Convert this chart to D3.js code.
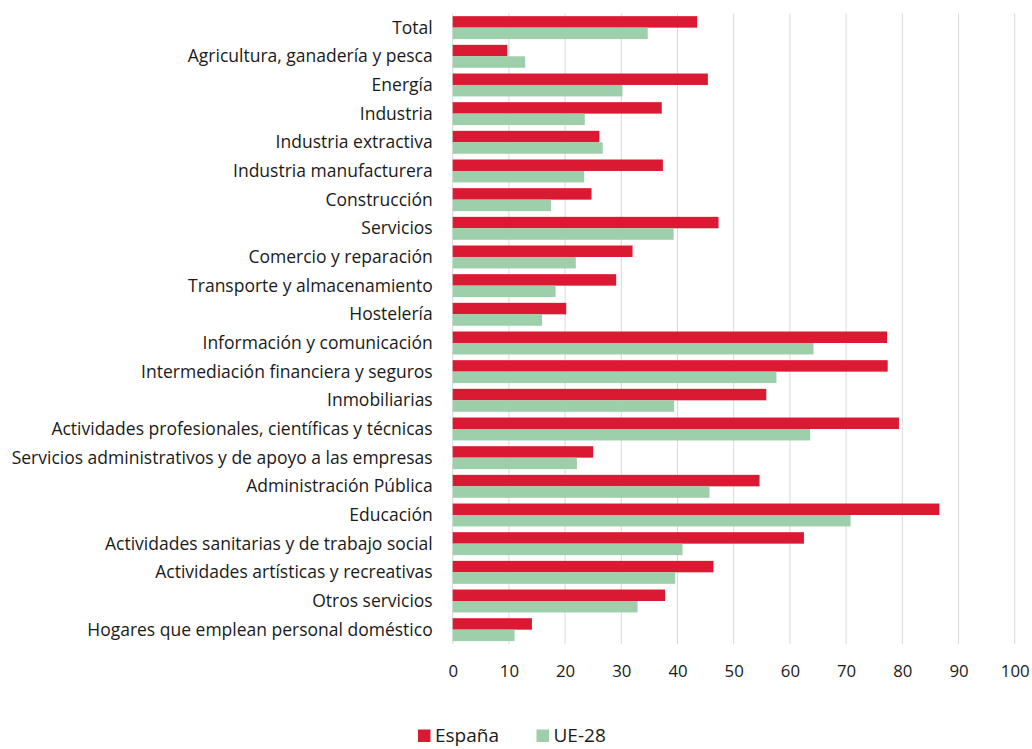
<!DOCTYPE html>
<html>
<head>
<meta charset="utf-8">
<script src="https://cdn.jsdelivr.net/npm/d3@7"></script>
<style>
  body { margin: 0; background: #fff; }
  text { font-family: "Open Sans", "Noto Sans", sans-serif; fill: #1a1a1a; }
</style>
</head>
<body>
<div id="chart"></div>
<script>
// sectores (de arriba a abajo)
var categories = [
    "Total",
    "Agricultura, ganadería y pesca",
    "Energía",
    "Industria",
    "Industria extractiva",
    "Industria manufacturera",
    "Construcción",
    "Servicios",
    "Comercio y reparación",
    "Transporte y almacenamiento",
    "Hostelería",
    "Información y comunicación",
    "Intermediación financiera y seguros",
    "Inmobiliarias",
    "Actividades profesionales, científicas y técnicas",
    "Servicios administrativos y de apoyo a las empresas",
    "Administración Pública",
    "Educación",
    "Actividades sanitarias y de trabajo social",
    "Actividades artísticas y recreativas",
    "Otros servicios",
    "Hogares que emplean personal doméstico"
]
var espana = [43.5, 9.7, 45.4, 37.2, 26.1, 37.4, 24.7, 47.3, 32.0, 29.1, 20.2,
              77.3, 77.4, 55.8, 79.4, 25.0, 54.6, 86.6, 62.5, 46.4, 37.8, 14.1]
var ue28 = [34.7, 12.9, 30.2, 23.5, 26.7, 23.4, 17.5, 39.3, 21.9, 18.3, 15.9,
            64.2, 57.6, 39.4, 63.6, 22.1, 45.7, 70.8, 40.9, 39.6, 32.9, 11.0]
var series = ["España", "UE-28"]
var xTicks = [0, 10, 20, 30, 40, 50, 60, 70, 80, 90, 100]

var colors = { "España": "#da1a32", "UE-28": "#9dcfab" }

var W = 1032, H = 749
var margin = { left: 452.7, right: 17.3, top: 13.3, bottom: 105 }
var width = W - margin.left - margin.right,
    height = H - margin.top - margin.bottom

var svg = d3.select("#chart")
    .append("svg")
        .attr("width", W)
        .attr("height", H)

var g = svg.append("g")
    .attr("transform", "translate(" + margin.left + "," + margin.top + ")")

var x = d3.scaleLinear().domain([0, 100]).range([0, width])
var y = d3.scaleBand().domain(categories).range([0, height]).paddingInner(0.2).paddingOuter(0.1)
var ySub = d3.scaleBand().domain(series).range([0, y.bandwidth()])

// rejilla vertical
g.append("g")
    .selectAll("line")
    .data(xTicks)
    .enter()
        .append("line")
        .attr("x1", function(d){ return x(d) })
        .attr("x2", function(d){ return x(d) })
        .attr("y1", 0)
        .attr("y2", height)
        .attr("stroke", "#d9d9d9")
        .attr("stroke-width", 1)

var rows = categories.map(function(c, i){
    return { cat: c, vals: [ { s: "España", v: espana[i] }, { s: "UE-28", v: ue28[i] } ] }
})

var row = g.append("g")
    .selectAll("g")
    .data(rows)
    .enter()
        .append("g")
        .attr("transform", function(d){ return "translate(0," + y(d.cat) + ")" })

row.selectAll("rect")
    .data(function(d){ return d.vals })
    .enter()
        .append("rect")
        .attr("x", x(0))
        .attr("y", function(d){ return ySub(d.s) })
        .attr("width", function(d){ return x(d.v) - x(0) })
        .attr("height", ySub.bandwidth())
        .attr("fill", function(d){ return colors[d.s] })

// etiquetas de categoría
var yAxis = d3.axisLeft(y).tickSize(0).tickPadding(20)
var ya = g.append("g").call(yAxis)
ya.select(".domain").remove()
ya.selectAll("text")
    .style("font-size", "17.5px")
    .attr("dy", "0.35em")

// eje x
var xAxis = d3.axisBottom(x).tickValues(xTicks).tickSize(0).tickPadding(21)
var xa = g.append("g")
    .attr("transform", "translate(0," + height + ")")
    .call(xAxis)
xa.select(".domain").remove()
xa.selectAll("text")
    .style("font-size", "16.8px")

// leyenda
var legend = svg.append("g").attr("transform", "translate(418,729.5)")
var legX = [0, 118.5]
series.forEach(function(s, i){
    var lg = legend.append("g").attr("transform", "translate(" + legX[i] + ",0)")
    lg.append("rect")
        .attr("width", 12.5).attr("height", 12.5)
        .attr("fill", colors[s])
    lg.append("text")
        .attr("x", 17).attr("y", 12.5)
        .style("font-size", "19px")
        .text(s)
})
</script>
</body>
</html>
